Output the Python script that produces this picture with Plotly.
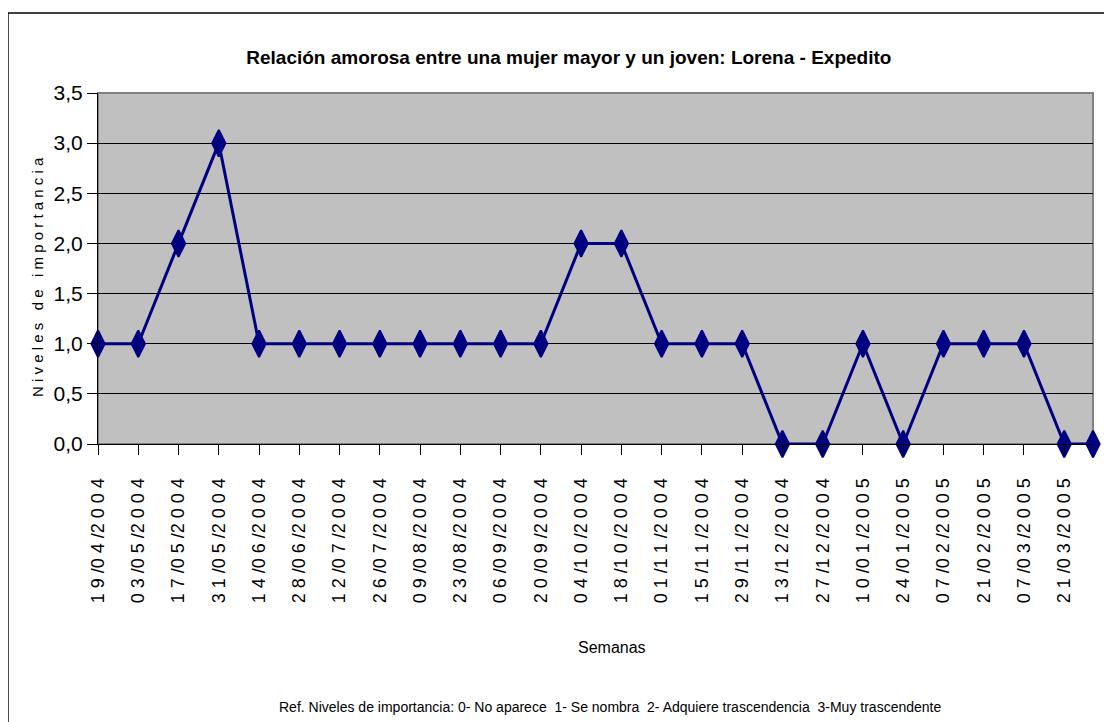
import pandas as pd
import plotly.graph_objects as go

# fechas de cada semana registrada y nivel de importancia
fechas = ['2004-04-19', '2004-05-03', '2004-05-17', '2004-05-31', '2004-06-14',
          '2004-06-28', '2004-07-12', '2004-07-26', '2004-08-09', '2004-08-23',
          '2004-09-06', '2004-09-20', '2004-10-04', '2004-10-18', '2004-11-01',
          '2004-11-15', '2004-11-29', '2004-12-13', '2004-12-27', '2005-01-10',
          '2005-01-24', '2005-02-07', '2005-02-21', '2005-03-07', '2005-03-21',
          '2005-03-31']
niveles = [1, 1, 2, 3, 1, 1, 1, 1, 1, 1, 1, 1, 2, 2, 1, 1, 1, 0, 0, 1, 0, 1, 1, 1, 0, 0]

# etiquetas del eje: cada dos semanas
fechas_eje = fechas[:25]

titulo = "Relación amorosa entre una mujer mayor y un joven: Lorena - Expedito"
titulo_y = "Niveles de importancia"
titulo_x = "Semanas"
nota = "Ref. Niveles de importancia: 0- No aparece  1- Se nombra  2- Adquiere trascendencia  3-Muy trascendente"

SANS = "Liberation Sans, Arial, sans-serif"


def espaciar(fecha):
    txt = pd.Timestamp(fecha).strftime('%d/%m/%Y')
    out = ''
    for i, c in enumerate(txt):
        out += c
        if i < len(txt) - 1 and c != '/':
            out += ' '
    return out


fig = go.Figure()
fig.add_trace(go.Scatter(
    x=fechas, y=niveles,
    mode='lines+markers',
    line=dict(color='#000080', width=3),
    marker=dict(symbol='diamond-tall', size=19, color='#000080',
                line=dict(color='#000080', width=2)),
    cliponaxis=False,
    showlegend=False,
))

# bordes: area de trazado de 995 x 351 px
fig.add_shape(type='rect', xref='paper', yref='paper', x0=0, x1=1, y0=0, y1=1,
              line=dict(color='#808080', width=2), layer='below')
fig.add_shape(type='path', xref='paper', yref='paper',
              path='M -0.0905,-0.9 L -0.0905,1.228 L 1.1,1.228',
              line=dict(color='black', width=1.5))

fig.add_annotation(text=' '.join(titulo_y), xref='paper', yref='paper',
                   x=-0.0603, y=0.476, xanchor='center', yanchor='middle',
                   textangle=-90, showarrow=False,
                   font=dict(family=SANS, size=15, color='black'))
fig.add_annotation(text=titulo_x, xref='paper', yref='paper', x=0.5166, y=-0.581,
                   xanchor='center', yanchor='middle',
                   showarrow=False, font=dict(family=SANS, size=16, color='black'))
fig.add_annotation(text=nota, xref='paper', yref='paper', x=0.5146, y=-0.749,
                   xanchor='center', yanchor='middle',
                   showarrow=False, font=dict(family=SANS, size=14, color='black'))

# la pagina deja 8 px de margen en el body, se compensa aqui
fig.update_layout(
    width=1104, height=714,
    margin=dict(l=90, r=19, t=85, b=278),
    paper_bgcolor='white',
    plot_bgcolor='#C0C0C0',
    separators=',.',
    title=dict(text='<b>' + titulo + '</b>', x=0.508, y=0.931,
               xanchor='center', yanchor='middle',
               font=dict(family=SANS, size=19, color='black')),
    xaxis=dict(
        type='date',
        range=[fechas[0], fechas[-1]],
        tickvals=fechas_eje,
        ticktext=[espaciar(f) for f in fechas_eje],
        tickangle=-90,
        ticks='outside', ticklen=10, tickcolor='black', tickwidth=1,
        ticklabelstandoff=16,
        showgrid=False, zeroline=False,
        showline=True, linecolor='black', linewidth=1,
        tickfont=dict(family=SANS, size=18, color='black'),
    ),
    yaxis=dict(
        range=[0, 3.5], dtick=0.5, tickformat='.1f',
        ticks='outside', ticklen=10, tickcolor='black', tickwidth=1,
        showgrid=True, gridcolor='black', gridwidth=1,
        zeroline=False,
        showline=True, linecolor='black', linewidth=1,
        tickfont=dict(family=SANS, size=21, color='black'),
    ),
)

fig.write_html("out.html")
